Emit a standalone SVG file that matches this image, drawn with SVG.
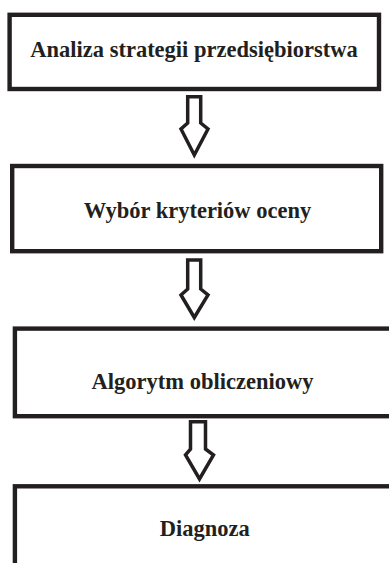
<svg xmlns="http://www.w3.org/2000/svg" width="389" height="563" viewBox="0 0 389 563">
  <style>
    .box { fill: #ffffff; stroke: #231f20; stroke-width: 4.4; }
    .label { font-family: "Liberation Serif", "Times New Roman", serif; font-weight: bold; font-size: 22.5px; fill: #231f20; text-anchor: middle; }
    .arrow { fill: #ffffff; stroke: #231f20; stroke-width: 3.5; stroke-linejoin: miter; stroke-miterlimit: 10; }
  </style>
  <rect width="389" height="563" fill="#ffffff"/>

  <!-- hollow block arrows between the steps -->
  <g id="connectors">
    <path class="arrow" d="M187.7,96.8 L200.7,96.8 L200.7,123 L208,129 L194.3,155 L181,129 L187.7,123 Z"/>
    <path class="arrow" d="M187.7,260 L200.7,260 L200.7,289 L208,295 L194.3,317.5 L181,295 L187.7,289 Z"/>
    <path class="arrow" d="M190.5,421.8 L205.5,421.8 L205.5,449 L213.5,455 L199.5,479 L185.5,455 L190.5,449 Z"/>
  </g>

  <g id="node-analiza">
    <rect class="box" x="9.6" y="14.8" width="369.4" height="74.2"/>
    <text class="label" x="194" y="56.5">Analiza strategii przedsiębiorstwa</text>
  </g>

  <g id="node-wybor">
    <rect class="box" x="12.2" y="166" width="369" height="85.2"/>
    <text class="label" x="197.5" y="218">Wybór kryteriów oceny</text>
  </g>

  <g id="node-algorytm">
    <rect class="box" x="14.9" y="328.6" width="380" height="87.6"/>
    <text class="label" x="202.5" y="388.5">Algorytm obliczeniowy</text>
  </g>

  <g id="node-diagnoza">
    <rect class="box" x="14.9" y="486.3" width="380" height="90"/>
    <text class="label" x="204.7" y="535.5">Diagnoza</text>
  </g>
</svg>
